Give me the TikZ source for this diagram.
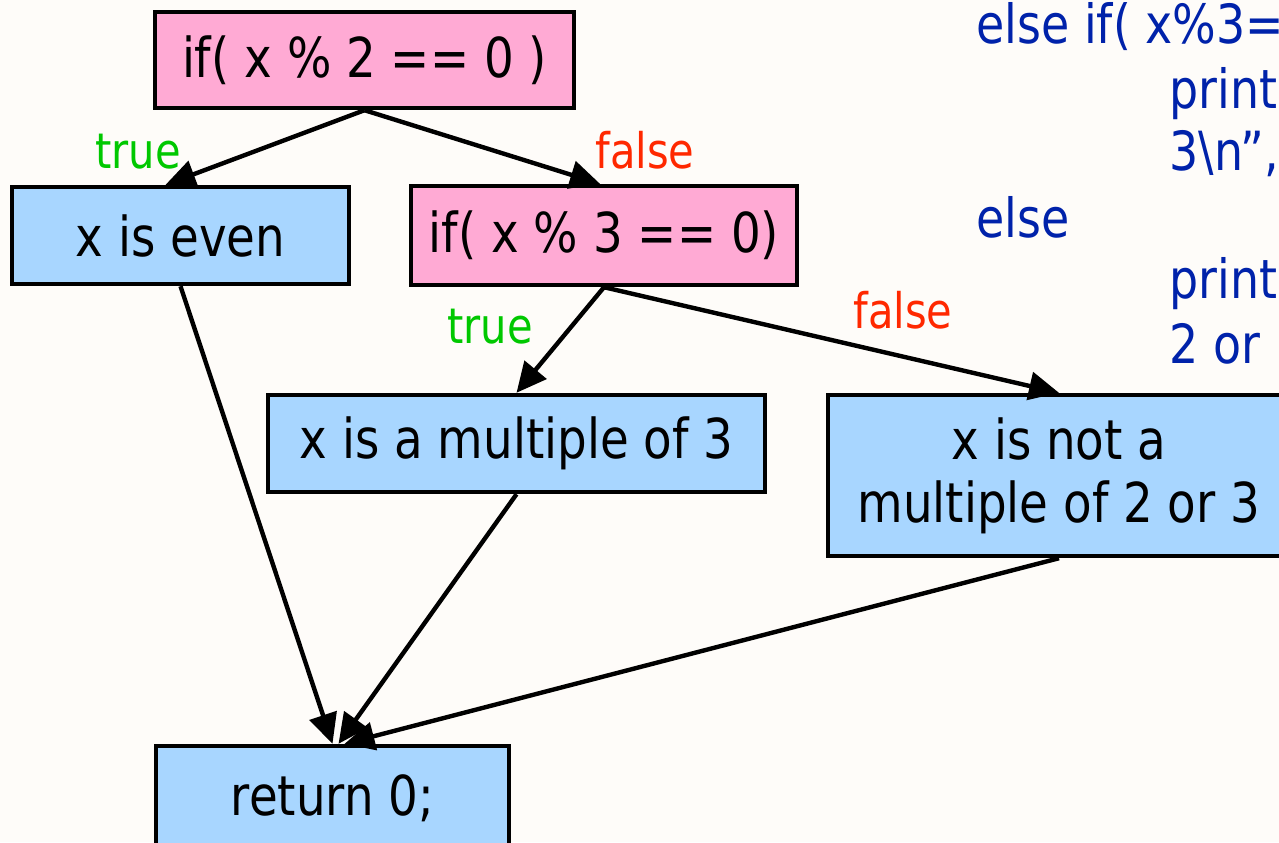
\documentclass[tikz,border=0pt]{standalone}
\usepackage{fontspec}
\setmainfont[FakeStretch=0.85]{DejaVu Sans}
\usetikzlibrary{arrows.meta}
\definecolor{bgpaper}{RGB}{254,252,249}
\definecolor{pinkbox}{RGB}{255,170,212}
\definecolor{bluebox}{RGB}{168,214,255}
\definecolor{truegreen}{RGB}{0,200,0}
\definecolor{falsered}{RGB}{255,40,0}
\definecolor{codeblue}{RGB}{0,34,170}

\begin{document}
\begin{tikzpicture}[x=0.5pt,y=-0.5pt,
  box/.style={draw=black,line width=2.2pt,inner sep=0pt,font=\fontsize{27.5}{31.5}\selectfont,align=center},
  cond/.style={box,fill=pinkbox},
  stmt/.style={box,fill=bluebox},
  flow/.style={line width=2.2pt,-{Triangle[length=15pt,width=14pt]}},
  truelbl/.style={text=truegreen,font=\fontsize{24.5}{28}\selectfont},
  falselbl/.style={text=falsered,font=\fontsize{24.5}{28}\selectfont},
  codeline/.style={anchor=base west,inner sep=0pt,text=codeblue,font=\fontsize{27}{30}\selectfont}]
\useasboundingbox (0,0) rectangle (1279,842); \clip (0,0) rectangle (1279,842);
\fill[bgpaper] (0,0) rectangle (1279,842);
\node[cond,minimum width=209.5pt,minimum height=48pt] (ifTwo) at (364.5,60) {if( x \% 2 == 0 )};
\node[stmt,minimum width=168.5pt,minimum height=48.5pt] (even) at (180.5,235.5) {x is even};
\node[cond,minimum width=193pt,minimum height=49.5pt] (ifThree) at (604,235.5) {if( x \% 3 == 0)};
\node[stmt,minimum width=248.5pt,minimum height=48.5pt] (multThree) at (516.5,443.5) {x is a multiple of 3};
\node[stmt,minimum width=231pt,minimum height=80.5pt] (notMult) at (1059,475.5) {x is not a\\multiple of 2 or 3};
\node[stmt,minimum width=176.5pt,minimum height=52pt] (ret) at (332.5,798) {return 0;};
\draw[flow] (ifTwo.south) -- ([xshift=-7.5pt]even.north); \draw[flow] (ifTwo.south) -- ([xshift=-2pt]ifThree.north);
\draw[flow] (ifThree.south) -- (multThree.north); \draw[flow] (ifThree.south) -- (notMult.north);
\draw[flow] (even.south) -- (ret.north); \draw[flow] (multThree.south) -- ([xshift=3pt]ret.north); \draw[flow] (notMult.south) -- ([xshift=6pt]ret.north);
\node[truelbl] (tTwo) at (138,152) {true}; \node[falselbl] (fTwo) at (645,150) {false};
\node[truelbl] (tThree) at (490,327) {true}; \node[falselbl] (fThree) at (903,310) {false};
\node[codeline] (cA) at (976,43) {else if( x\%3=};
\node[codeline] (cB) at (1169,108) {print};
\node[codeline] (cC) at (1169,170) {3\textbackslash n”,};
\node[codeline] (cD) at (976,237) {else};
\node[codeline] (cE) at (1169,298) {print};
\node[codeline] (cF) at (1169,363) {2 or};
\end{tikzpicture}
\end{document}
